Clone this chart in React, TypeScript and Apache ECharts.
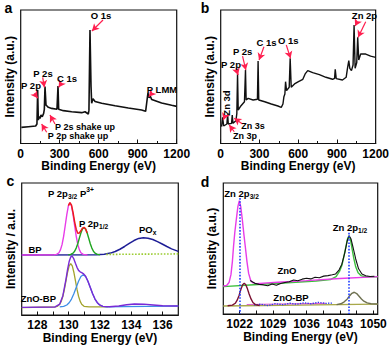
import React, { useEffect, useRef } from 'react';
import * as echarts from 'echarts';

const FONT = '"Liberation Sans", Arial, Helvetica, sans-serif';

// ---------- Panel a : BP survey ----------
const aEnergy = [5, 59, 115, 125, 130.5, 135.6, 141, 148.5, 156, 166, 176.6, 181.8, 187, 194.6, 202.3, 212.6, 238, 279, 287, 292, 328, 392, 469, 495, 520, 525, 533, 541, 546, 556, 572, 623, 726, 828, 930, 961, 972, 979, 987, 997, 1008, 1084, 1161, 1200];
const aIntensity = [12.1, 12.6, 13.1, 14.6, 40.1, 17.6, 20.1, 18.8, 21.3, 20.1, 22.6, 25.6, 42.6, 28.8, 28.1, 27.1, 26.3, 25.6, 43.1, 25.6, 24.6, 23.8, 23.1, 23.8, 22.1, 25, 85, 42.6, 30.1, 33.6, 31.5, 30.1, 28.3, 26.6, 25.1, 24.1, 32.6, 37.9, 34.4, 35.4, 32.9, 30.3, 28.6, 27.8];
const aArrowFrom = [[633, 92.5], [104, 37.6], [169, 49.6], [315, 45.5], [1008, 37.6], [264, 14.6], [200, 8.4]];
const aArrowTo = [[548, 84.3], [131, 33.9], [182, 42.1], [292, 42.1], [985, 35.1], [225, 21.3], [161, 14.6]];

// ---------- Panel b : ZnO-BP survey ----------
const bEnergy = [7, 15, 23, 48, 53.6, 59, 84, 89.5, 95, 118, 125, 130.5, 135.6, 156, 184, 192, 197, 212.6, 251, 284.5, 289.6, 294.7, 341, 392, 443, 469, 482, 489.5, 497, 502.3, 510, 530.5, 538, 546, 571.6, 602, 636, 654, 674, 712.6, 764, 815, 866.5, 882, 887, 894.6, 943, 971.6, 981.8, 992, 999.8, 1012.6, 1025, 1033, 1041, 1053.6, 1061, 1069, 1084, 1123, 1161, 1200];
const bIntensity = [12.6, 19.6, 13.1, 14.6, 21.8, 14.6, 15.1, 21.3, 15.1, 17.1, 22.6, 52, 25.1, 28.1, 31.3, 55, 32.6, 33.8, 32.6, 33.1, 61.8, 32.6, 31.3, 29.6, 28.1, 27.1, 29.6, 35.1, 37.1, 46.3, 39.6, 42.1, 63.8, 42.1, 44.6, 46.3, 48.1, 52.1, 54.6, 53.1, 51.6, 49.6, 48.1, 48.8, 55.6, 48.6, 47.6, 49.6, 56.3, 62.1, 56.3, 54.6, 58.8, 88.8, 56.3, 60.6, 79.5, 62.5, 67, 67, 65.5, 64.5];
const bArrowFrom = [[1058, 91.2], [1123, 91.2], [508, 73.8], [335, 72.5], [169, 65.5], [118, 56.3], [35, 21.3], [169, 14.6], [105, 8.8]];
const bArrowTo = [[1041, 88], [1064, 79.5], [541, 63.8], [297, 62.5], [195, 55], [135, 51.3], [20, 17.6], [105, 18.9], [66, 13.9]];

// ---------- Panel c : P 2p ----------
const cMagentaE = [127, 129.08, 129.23, 129.38, 129.48, 129.58, 129.68, 129.78, 129.88, 129.98, 130.08, 130.18, 130.28, 130.38, 130.48, 130.58, 130.68, 130.78, 130.93, 131.2];
const cMagentaV = [45.5, 45.6, 45.9, 47.2, 49.5, 53.5, 59.8, 67.8, 76.1, 82.6, 85, 82.6, 76.1, 67.8, 59.8, 53.5, 49.5, 47.2, 45.9, 45.5];
const cGreenE = [129.98, 130.13, 130.28, 130.38, 130.48, 130.58, 130.68, 130.78, 130.88, 130.98, 131.08, 131.18, 131.28, 131.38, 131.48, 131.58, 131.68, 131.83, 132.0];
const cGreenV = [45.6, 45.9, 46.9, 48.3, 50.7, 54, 58.1, 62.1, 65.1, 66.2, 65.1, 62.1, 58.1, 54, 50.7, 48.3, 46.9, 45.9, 45.6];
const cRedE = [129.98, 130.08, 130.18, 130.28, 130.38, 130.48, 130.58, 130.68, 130.78, 130.88, 130.98, 131.08, 131.18];
const cRedV = [82.9, 85.2, 83.2, 77.5, 70.6, 65, 62, 62.1, 63.8, 65.8, 66.4, 65.2, 62.2];
const cNavyE = [127, 131.77, 132.27, 132.67, 132.97, 133.27, 133.57, 133.87, 134.17, 134.47, 134.77, 135.07, 135.37, 135.67, 135.97, 136.27, 136.57, 137];
const cNavyV = [45.5, 45.6, 46.1, 46.9, 48.1, 49.8, 51.9, 54.2, 56.4, 58, 58.6, 58.2, 57.2, 55.6, 53.8, 51.9, 50.1, 48.2];
const cLimeE = [132.4, 137];
const cLimeV = [45.9, 46.3];
const cOliveE = [127, 129.13, 129.28, 129.43, 129.53, 129.63, 129.73, 129.83, 129.93, 130.03, 130.13, 130.23, 130.33, 130.43, 130.53, 130.63, 130.73, 130.83, 130.98, 131.3, 132.5];
const cOliveV = [5.6, 6.1, 6.6, 8.2, 10.5, 14.2, 19.6, 26, 32.4, 37.2, 39, 37.2, 32.4, 26, 19.6, 14.2, 10.5, 8.2, 6.6, 6.1, 6.2];
const cBlueE = [129.43, 129.68, 129.88, 130.03, 130.18, 130.33, 130.48, 130.63, 130.78, 130.93, 131.08, 131.23, 131.38, 131.53, 131.68, 131.83, 131.98, 132.18, 132.43, 133.5, 135, 137];
const cBlueV = [6.1, 6.5, 7.6, 9.3, 12.1, 16.1, 20.9, 25.6, 29.2, 30.5, 29.2, 25.6, 20.9, 16.1, 12.1, 9.3, 7.6, 6.5, 6.1, 6.3, 6.6, 6.8];
const cPurpleE = [127, 129.13, 129.43, 129.63, 129.83, 129.93, 130.03, 130.13, 130.23, 130.33, 130.43, 130.53, 130.63, 130.73, 130.83, 130.93, 131.08, 131.23, 131.38, 131.53, 131.68, 131.83, 131.98, 132.18, 132.6, 133.2, 133.7, 134.2, 134.8, 135.4, 136, 137];
const cPurpleV = [5.8, 6.1, 8.3, 14.6, 27.2, 34.5, 40.5, 44, 44.5, 42.5, 39.2, 36.1, 33.8, 32.7, 32.1, 31.4, 29.4, 25.6, 20.9, 16.1, 12.1, 9.3, 7.6, 6.5, 6.3, 6.8, 7.8, 8.3, 8.2, 7.6, 7.0, 6.8];
const cTickLabels = [128, 130, 132, 134, 136];
const cTicks = [128, 129, 130, 131, 132, 133, 134, 135, 136];

// ---------- Panel d : Zn 2p ----------
const dZnOMagE = [1018.6, 1019.3, 1019.8, 1020.2, 1020.5, 1020.75, 1021.0, 1021.35, 1021.65, 1021.95, 1022.25, 1022.55, 1022.9, 1023.2, 1023.55, 1023.9, 1024.3, 1024.7, 1025.5, 1030, 1036, 1043, 1050.9];
const dZnOMagV = [21.4, 21.8, 24, 30, 40, 52, 62, 73, 82, 86.5, 82, 73, 61, 51.5, 40, 31, 26, 24, 23.2, 24.2, 25.5, 27.1, 28.5];
const dZnOGreenE = [1018.6, 1025, 1032, 1038, 1041, 1042.2, 1042.9, 1043.4, 1043.8, 1044.2, 1044.55, 1044.86, 1045.2, 1045.55, 1045.9, 1046.3, 1046.8, 1047.4, 1048.2, 1050.9];
const dZnOGreenV = [20.9, 22.3, 23.9, 25.2, 26.3, 28.5, 32.5, 37, 43.5, 50.5, 57, 59.5, 57, 49.5, 42.5, 36, 31.5, 29.3, 28.4, 28.4];
const dZnODataE = [1024.2, 1025.2, 1026.1, 1027, 1027.9, 1028.8, 1029.7, 1030.6, 1031.5, 1032.4, 1033.3, 1034.2, 1035.1, 1036, 1036.9, 1037.8, 1038.7, 1039.6, 1040.5, 1041.4, 1042.1, 1042.8, 1043.4, 1044, 1044.5, 1044.9, 1045.3, 1045.8, 1046.3, 1046.9, 1047.6, 1048.4, 1049.3, 1050.2];
const dZnODataV = [25.5, 23.4, 22.6, 22.2, 21.6, 22.9, 21.9, 23.3, 24.1, 24.6, 25.9, 25.4, 26.6, 27.3, 26.8, 28.1, 27.7, 28.9, 29.3, 29.9, 30.6, 33.5, 38, 46.5, 55.5, 59.8, 57.5, 50, 42, 34.5, 30.5, 29.2, 28.6, 28.8];
const dBPBaseE = [1018.6, 1050.9];
const dBPBaseV = [6.1, 7.6];
const dBPPinkE = [1023.5, 1040];
const dBPPinkV = [7.3, 8.1];
const dBPMaroonE = [1019.5, 1020.5, 1021.1, 1021.5, 1021.9, 1022.3, 1022.65, 1022.98, 1023.3, 1023.65, 1024.0, 1024.4, 1024.8, 1025.3, 1026.2];
const dBPMaroonV = [6.3, 6.8, 8.2, 10.5, 14.2, 19, 22.3, 23.4, 22.3, 19.2, 15.3, 11.5, 8.8, 7.2, 6.5];
const dBPRightE = [1042.3, 1043.2, 1043.9, 1044.5, 1045.0, 1045.5, 1046.0, 1046.5, 1047.0, 1047.5, 1048.0, 1048.7, 1049.5, 1050.9];
const dBPRightV = [7.2, 7.8, 9.3, 11.3, 13.8, 15.8, 16.6, 15.6, 13.5, 11.4, 9.8, 8.5, 7.8, 7.6];
const dBPDataE = [1025, 1026.5, 1028, 1029.5, 1031, 1032.5, 1034, 1035.5, 1037, 1038.5, 1040, 1041.5];
const dBPDataV = [6.8, 7.5, 6.4, 7.9, 7.1, 8.2, 7.4, 8.6, 7.8, 8.9, 8.1, 8.4];
const dPeakLines = [[1022, 88.5], [1044.8, 62]];
const dTickLabels = [1022, 1029, 1036, 1043, 1050];
const dTicks = [1022, 1025.5, 1029, 1032.5, 1036, 1039.5, 1043, 1046.5, 1050];

const zip = (xs: number[], ys: number[]) => xs.map((x, i) => [x, ys[i]]);

const ARROW = '#ff1f4f';

function buildOption(): any {
  const gridBox = { show: true, borderColor: '#111', borderWidth: 1.2, backgroundColor: 'transparent' };
  const grid = [
    { left: 20.7, top: 10, width: 156, height: 133.5, ...gridBox },
    { left: 220.7, top: 10, width: 156, height: 133.5, ...gridBox },
    { left: 21.7, top: 183, width: 156.6, height: 132, ...gridBox },
    { left: 223.3, top: 183, width: 154.4, height: 131, ...gridBox },
  ];
  const plain = (v: number) => String(v);
  const labelStyle = { color: '#000', fontSize: 12, fontWeight: 'bold', fontFamily: FONT, margin: 4, formatter: plain };
  const nameStyle = { color: '#000', fontSize: 12, fontWeight: 'bold', fontFamily: FONT };
  const xBase = (gridIndex: number, extra: any) => ({
    gridIndex,
    type: 'value',
    axisLine: { show: true, lineStyle: { color: '#111', width: 1.2 } },
    axisTick: { show: true, inside: true, length: 4, lineStyle: { color: '#111', width: 1 } },
    splitLine: { show: false },
    axisLabel: { ...labelStyle },
    name: 'Binding Energy (eV)',
    nameLocation: 'middle',
    nameGap: 15,
    nameTextStyle: nameStyle,
    ...extra,
  });
  const xAxis = [
    xBase(0, { min: 0, max: 1200, interval: 300, minorTick: { show: true, splitNumber: 2, length: 2.5, lineStyle: { color: '#111' } } }),
    xBase(1, { min: 0, max: 1200, interval: 300, minorTick: { show: true, splitNumber: 2, length: 2.5, lineStyle: { color: '#111' } } }),
    xBase(2, {
      min: 127, max: 137,
      axisLabel: { ...labelStyle, customValues: cTickLabels },
      axisTick: { show: true, inside: true, length: 3.5, customValues: cTicks, lineStyle: { color: '#111', width: 1 } },
    }),
    xBase(3, {
      min: 1018.6, max: 1050.9,
      axisLabel: { ...labelStyle, customValues: dTickLabels },
      axisTick: { show: true, inside: true, length: 3.5, customValues: dTicks, lineStyle: { color: '#111', width: 1 } },
    }),
  ];
  const yBase = (gridIndex: number, name: string) => ({
    gridIndex,
    type: 'value',
    min: 0,
    max: 100,
    axisLine: { show: false },
    axisTick: { show: false },
    axisLabel: { show: false },
    splitLine: { show: false },
    name,
    nameLocation: 'middle',
    nameGap: 5,
    nameRotate: 90,
    nameTextStyle: nameStyle,
  });
  const yAxis = [
    yBase(0, 'Intensity (a.u.)'),
    yBase(1, 'Intensity (a.u.)'),
    yBase(2, 'Intensity / a.u.'),
    yBase(3, 'Intensity (a.u.)'),
  ];

  const line = (idx: number, xs: number[], ys: number[], color: string, width = 1.4, dash: any = 'solid', extra: any = {}) => ({
    type: 'line',
    xAxisIndex: idx,
    yAxisIndex: idx,
    data: zip(xs, ys),
    showSymbol: false,
    symbol: 'none',
    silent: true,
    lineStyle: { color, width, type: dash },
    ...extra,
  });

  const arrows = (from: number[][], to: number[][]) => ({
    silent: true,
    symbol: ['none', 'arrow'],
    symbolSize: [6, 7],
    label: { show: false },
    lineStyle: { color: ARROW, width: 1.2, type: 'solid' },
    data: from.map((f, i) => [{ coord: f }, { coord: to[i] }]),
  });

  const series = [
    line(0, aEnergy, aIntensity, '#111', 1.6, 'solid', { markLine: arrows(aArrowFrom, aArrowTo) }),
    line(1, bEnergy, bIntensity, '#111', 1.4, 'solid', { markLine: arrows(bArrowFrom, bArrowTo) }),
    // c: BP
    line(2, cNavyE, cNavyV, '#1e1e96', 1.5),
    line(2, cLimeE, cLimeV, '#9ccc33', 1.6, 'dotted'),
    line(2, cMagentaE, cMagentaV, '#e83ce8', 1.4),
    line(2, cGreenE, cGreenV, '#1fa51f', 1.4),
    line(2, cRedE, cRedV, '#ee1c1c', 1.5),
    // c: ZnO-BP
    line(2, cOliveE, cOliveV, '#a3a32c', 1.3),
    line(2, cBlueE, cBlueV, '#3d8ee6', 1.3),
    line(2, cPurpleE, cPurpleV, '#7a2ad6', 1.4),
    // d: ZnO
    line(3, dZnOGreenE, dZnOGreenV, '#3cc03c', 1.4),
    line(3, dZnOMagE, dZnOMagV, '#e83ce8', 1.4, 'solid', {
      markLine: {
        silent: true,
        symbol: ['none', 'none'],
        label: { show: false },
        lineStyle: { color: '#1f3cff', width: 1.6, type: 'dotted' },
        data: dPeakLines.map((p) => [{ coord: p }, { coord: [p[0], 0] }]),
      },
    }),
    line(3, dZnODataE, dZnODataV, '#111', 1.1),
    // d: ZnO-BP
    line(3, dBPBaseE, dBPBaseV, '#a8a84a', 1.3),
    line(3, dBPPinkE, dBPPinkV, '#e060d0', 1.1),
    line(3, dBPDataE, dBPDataV, '#2a3cf0', 1.3, 'dotted'),
    line(3, dBPMaroonE, dBPMaroonV, '#7a1030', 1.4),
    line(3, dBPRightE, dBPRightV, '#6e7050', 1.4),
  ];

  const txt = (x: number, y: number, text: string, size = 9.5, align = 'center', rotation = 0) => ({
    type: 'text',
    x,
    y,
    rotation,
    silent: true,
    z: 100,
    style: {
      text,
      fill: '#000',
      font: `bold ${size}px ${FONT}`,
      align,
      verticalAlign: 'middle',
      textAlign: align,
      textVerticalAlign: 'middle',
    },
  });
  const richTxt = (x: number, y: number, text: string, size = 9.5) => ({
    type: 'text',
    x,
    y,
    silent: true,
    z: 100,
    style: {
      text,
      fill: '#000',
      font: `bold ${size}px ${FONT}`,
      align: 'left',
      verticalAlign: 'middle',
      textAlign: 'left',
      textVerticalAlign: 'middle',
      rich: {
        n: { fontSize: size, fontWeight: 'bold', fontFamily: FONT, lineHeight: 14, verticalAlign: 'middle', fill: '#000' },
        s: { fontSize: size * 0.7, fontWeight: 'bold', fontFamily: FONT, lineHeight: 8, verticalAlign: 'bottom', fill: '#000' },
        u: { fontSize: size * 0.7, fontWeight: 'bold', fontFamily: FONT, lineHeight: 8, verticalAlign: 'top', fill: '#000' },
      },
    },
  });

  const graphic = [
    txt(8.5, 8, 'a', 14),
    txt(205, 8, 'b', 14),
    txt(10.5, 181, 'c', 14),
    txt(205, 182, 'd', 14),
    // a
    txt(101, 15, 'O 1s'),
    txt(31, 85, 'P 2p'),
    txt(43, 73, 'P 2s'),
    txt(67, 78, 'C 1s'),
    txt(162, 89, 'P LMM'),
    txt(85, 127, 'P 2s shake up', 9),
    txt(78, 135.5, 'P 2p shake up', 9),
    // b
    txt(364.5, 15, 'Zn 2p'),
    txt(288.3, 40, 'O 1s'),
    txt(266.5, 42.7, 'C 1s'),
    txt(242.7, 51, 'P 2s'),
    txt(231, 64, 'P 2p'),
    txt(226.5, 103, 'Zn 3d', 9.5, 'center', Math.PI / 2),
    txt(253, 126.3, 'Zn 3s', 9),
    txt(245, 136.3, 'Zn 3p', 9),
    // c
    richTxt(48, 193, '{n|P 2p}{s|3/2}{n| P}{u|3+}'),
    richTxt(79, 223, '{n|P 2p}{s|1/2}'),
    richTxt(139, 229, '{n|PO}{s|x}'),
    txt(35, 249.5, 'BP'),
    txt(38.3, 298, 'ZnO-BP'),
    // d
    richTxt(224.3, 193, '{n|Zn 2p}{s|3/2}'),
    richTxt(332.7, 227, '{n|Zn 2p}{s|1/2}'),
    txt(287, 270, 'ZnO'),
    txt(291, 297.3, 'ZnO-BP'),
  ];

  return {
    animation: false,
    backgroundColor: '#fff',
    grid,
    xAxis,
    yAxis,
    series,
    graphic,
  };
}

export default function App() {
  const ref = useRef<HTMLDivElement>(null);
  useEffect(() => {
    if (!ref.current) return;
    const chart = echarts.init(ref.current, null, { renderer: 'svg' });
    chart.setOption(buildOption());
    return () => chart.dispose();
  }, []);
  return (
    <div
      ref={ref}
      style={{ position: 'fixed', left: 0, top: 0, width: 392, height: 346, background: '#fff' }}
    />
  );
}
